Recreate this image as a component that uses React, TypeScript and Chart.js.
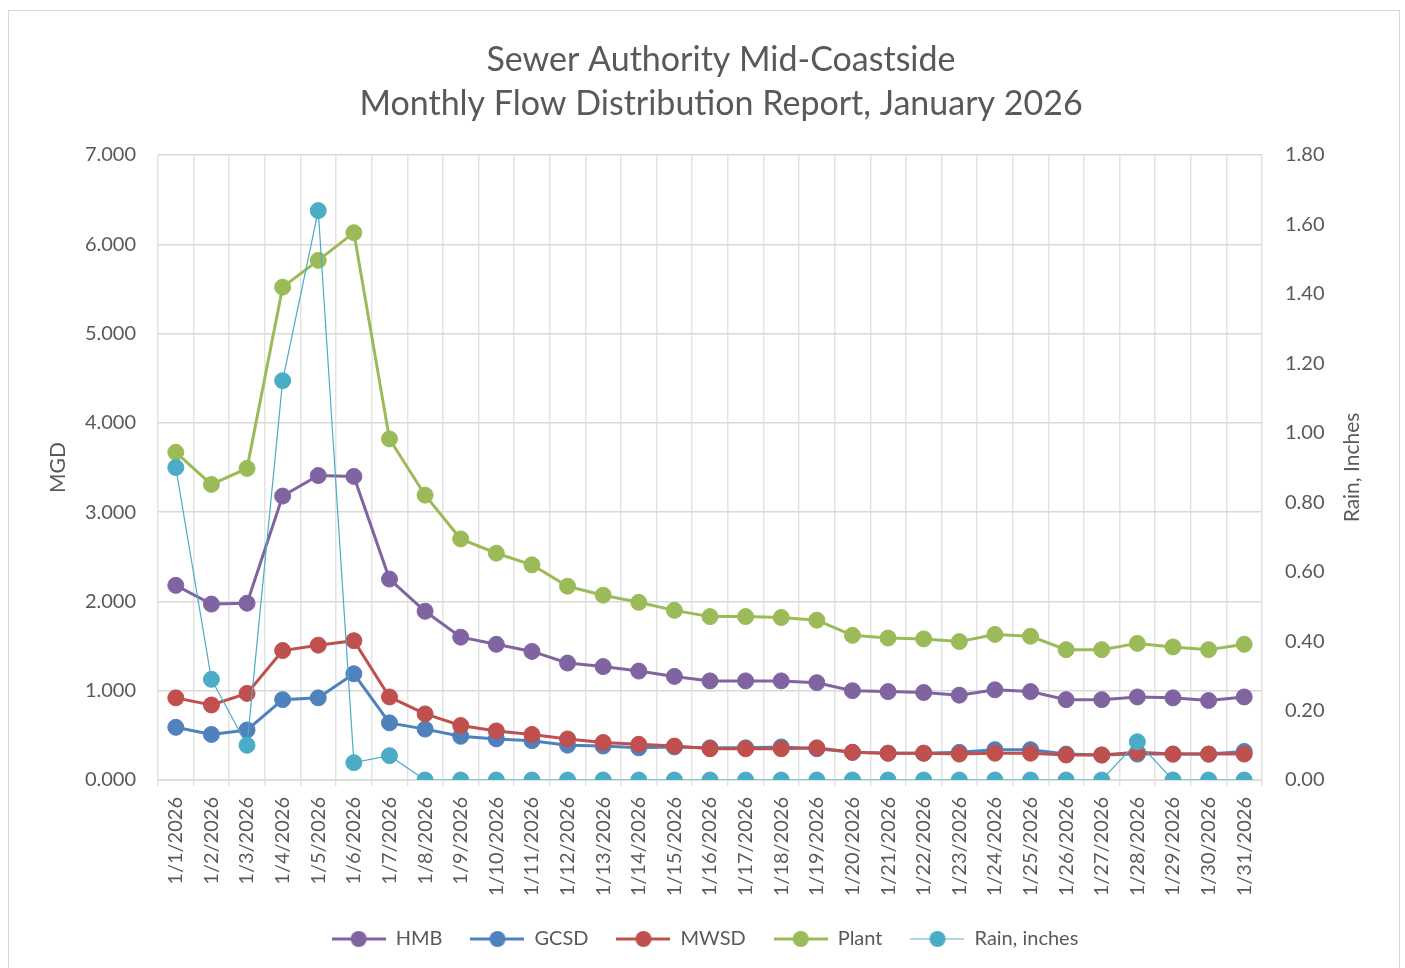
import React, { useEffect, useRef } from "react";
import { Chart, registerables } from "chart.js";
Chart.register(...registerables);

const days = [
  "1/1/2026", "1/2/2026", "1/3/2026", "1/4/2026", "1/5/2026", "1/6/2026", "1/7/2026", "1/8/2026",
  "1/9/2026", "1/10/2026", "1/11/2026", "1/12/2026", "1/13/2026", "1/14/2026", "1/15/2026", "1/16/2026",
  "1/17/2026", "1/18/2026", "1/19/2026", "1/20/2026", "1/21/2026", "1/22/2026", "1/23/2026", "1/24/2026",
  "1/25/2026", "1/26/2026", "1/27/2026", "1/28/2026", "1/29/2026", "1/30/2026", "1/31/2026",
];
const hmb = [2.18, 1.97, 1.98, 3.18, 3.41, 3.40, 2.25, 1.89, 1.60, 1.52, 1.44, 1.31, 1.27, 1.22, 1.16, 1.11,
  1.11, 1.11, 1.09, 1.00, 0.99, 0.98, 0.95, 1.01, 0.99, 0.90, 0.90, 0.93, 0.92, 0.89, 0.93];
const gcsd = [0.59, 0.51, 0.56, 0.90, 0.92, 1.19, 0.64, 0.57, 0.49, 0.46, 0.44, 0.39, 0.38, 0.36, 0.37, 0.36,
  0.36, 0.37, 0.35, 0.31, 0.30, 0.30, 0.31, 0.34, 0.34, 0.29, 0.28, 0.29, 0.29, 0.29, 0.32];
const mwsd = [0.92, 0.84, 0.97, 1.45, 1.51, 1.56, 0.93, 0.74, 0.61, 0.55, 0.51, 0.46, 0.42, 0.40, 0.38, 0.35,
  0.35, 0.35, 0.36, 0.31, 0.30, 0.30, 0.29, 0.30, 0.30, 0.28, 0.28, 0.31, 0.29, 0.29, 0.29];
const plant = [3.67, 3.31, 3.49, 5.52, 5.82, 6.13, 3.82, 3.19, 2.70, 2.54, 2.41, 2.17, 2.07, 1.99, 1.90, 1.83,
  1.83, 1.82, 1.79, 1.62, 1.59, 1.58, 1.55, 1.63, 1.61, 1.46, 1.46, 1.53, 1.49, 1.46, 1.52];
const rain = [0.90, 0.29, 0.10, 1.15, 1.64, 0.05, 0.07, 0, 0, 0, 0, 0, 0, 0, 0, 0,
  0, 0, 0, 0, 0, 0, 0, 0, 0, 0, 0, 0.11, 0, 0, 0];

const seriesNames = ["HMB", "GCSD", "MWSD", "Plant", "Rain, inches"];
const seriesColors = ["#8064A2", "#4F81BD", "#C0504D", "#9BBB59", "#4BACC6"];
const titleLines = ["Sewer Authority Mid-Coastside", "Monthly Flow Distribution Report, January 2026"];
const leftAxisTitle = "MGD";
const rightAxisTitle = "Rain, Inches";

const FONT = "Lato";
const TEXT = "#595959";

function legendImage(color: string, lineW: number, lineColor: string) {
  const c = document.createElement("canvas");
  c.width = 54;
  c.height = 20;
  const ctx = c.getContext("2d")!;
  ctx.strokeStyle = lineColor;
  ctx.lineWidth = lineW;
  ctx.beginPath();
  ctx.moveTo(0, 10);
  ctx.lineTo(54, 10);
  ctx.stroke();
  ctx.fillStyle = color;
  ctx.beginPath();
  ctx.arc(27, 10, 8, 0, Math.PI * 2);
  ctx.fill();
  return c;
}

const textPlugin = {
  id: "extraText",
  afterDraw(chart: any) {
    const ctx = chart.ctx;
    // chart title
    ctx.save();
    ctx.font = `34px ${FONT}`;
    ctx.fillStyle = TEXT;
    ctx.textAlign = "center";
    ctx.textBaseline = "middle";
    titleLines.forEach((t, i) => ctx.fillText(t, 712, 49 + i * 44));
    ctx.restore();
    // right axis title, reading bottom to top
    const s = chart.scales.y1;
    ctx.save();
    ctx.font = `21px ${FONT}`;
    ctx.fillStyle = TEXT;
    ctx.textAlign = "center";
    ctx.textBaseline = "middle";
    ctx.translate(s.right - 16, (chart.chartArea.top + chart.chartArea.bottom) / 2);
    ctx.rotate(-Math.PI / 2);
    ctx.fillText(rightAxisTitle, 0, 0);
    ctx.restore();
  },
};

export default function App() {
  const ref = useRef<HTMLCanvasElement>(null);
  useEffect(() => {
    const series = [hmb, gcsd, mwsd, plant, rain];
    const datasets = series.map((d, i) => {
      const isRain = i === 4;
      return {
        label: seriesNames[i],
        data: d,
        borderColor: seriesColors[i],
        backgroundColor: seriesColors[i],
        pointBackgroundColor: seriesColors[i],
        pointBorderColor: seriesColors[i],
        borderWidth: isRain ? 1.2 : 3,
        pointRadius: 8,
        pointBorderWidth: 1,
        yAxisID: isRain ? "y1" : "y",
        order: 5 - i,
        tension: 0,
      };
    });
    const imgs = seriesColors.map((c, i) => legendImage(c, i === 4 ? 1.5 : 3, i === 4 ? "#92CDDC" : c));
    const chart = new Chart(ref.current!, {
      type: "line",
      data: { labels: days, datasets },
      plugins: [textPlugin],
      options: {
        responsive: false,
        animation: false,
        layout: { padding: { left: 33, right: 31, top: 144, bottom: 10 } },
        plugins: {
          tooltip: { enabled: false },
          title: { display: false },
          legend: {
            position: "bottom",
            labels: {
              color: TEXT,
              font: { family: FONT, size: 20 },
              usePointStyle: true,
              pointStyleWidth: 54,
              padding: 28,
              generateLabels: (ch: any) => {
                return ch.data.datasets.map((ds: any, i: number) => ({
                  text: ds.label,
                  fillStyle: ds.borderColor,
                  strokeStyle: ds.borderColor,
                  fontColor: TEXT,
                  lineWidth: 0,
                  pointStyle: imgs[i],
                  datasetIndex: i,
                  hidden: false,
                }));
              },
            },
          },
        },
        scales: {
          x: {
            offset: true,
            grid: { display: true, offset: true, color: "#e3e3e3", lineWidth: 1.5, drawTicks: true, tickLength: 6 },
            border: { color: "#d9d9d9", width: 1.5 },
            ticks: {
              color: TEXT,
              font: { family: FONT, size: 20 },
              maxRotation: 90,
              minRotation: 90,
              autoSkip: false,
              padding: 11,
            },
            afterFit: (s: any) => { s.height = 121; },
          },
          y: {
            position: "left",
            min: 0,
            max: 7,
            ticks: {
              stepSize: 1,
              color: TEXT,
              font: { family: FONT, size: 20 },
              padding: 22,
              callback: (v: any) => Number(v).toFixed(3),
            },
            grid: { color: "#d9d9d9", lineWidth: 1.5, drawTicks: false },
            border: { display: false },
            title: { display: true, text: leftAxisTitle, color: TEXT, font: { family: FONT, size: 21 }, padding: { top: 4, bottom: 4 } },
            afterFit: (s: any) => { s.width = 116; },
          },
          y1: {
            position: "right",
            min: 0,
            max: 1.8,
            ticks: {
              stepSize: 0.2,
              color: TEXT,
              font: { family: FONT, size: 20 },
              padding: 23,
              callback: (v: any) => Number(v).toFixed(2),
            },
            grid: { display: false, drawTicks: false },
            border: { display: false },
            title: { display: false },
            afterFit: (s: any) => { s.width = 106; },
          },
        },
      },
    });
    return () => chart.destroy();
  }, []);
  return (
    <div
      style={{
        position: "fixed",
        left: 8,
        top: 10,
        width: 1392,
        height: 970,
        border: "1px solid #d9d9d9",
        boxSizing: "border-box",
        background: "#fff",
      }}
    >
      <canvas ref={ref} width={1390} height={958} style={{ display: "block", width: 1390, height: 958 }} />
    </div>
  );
}
